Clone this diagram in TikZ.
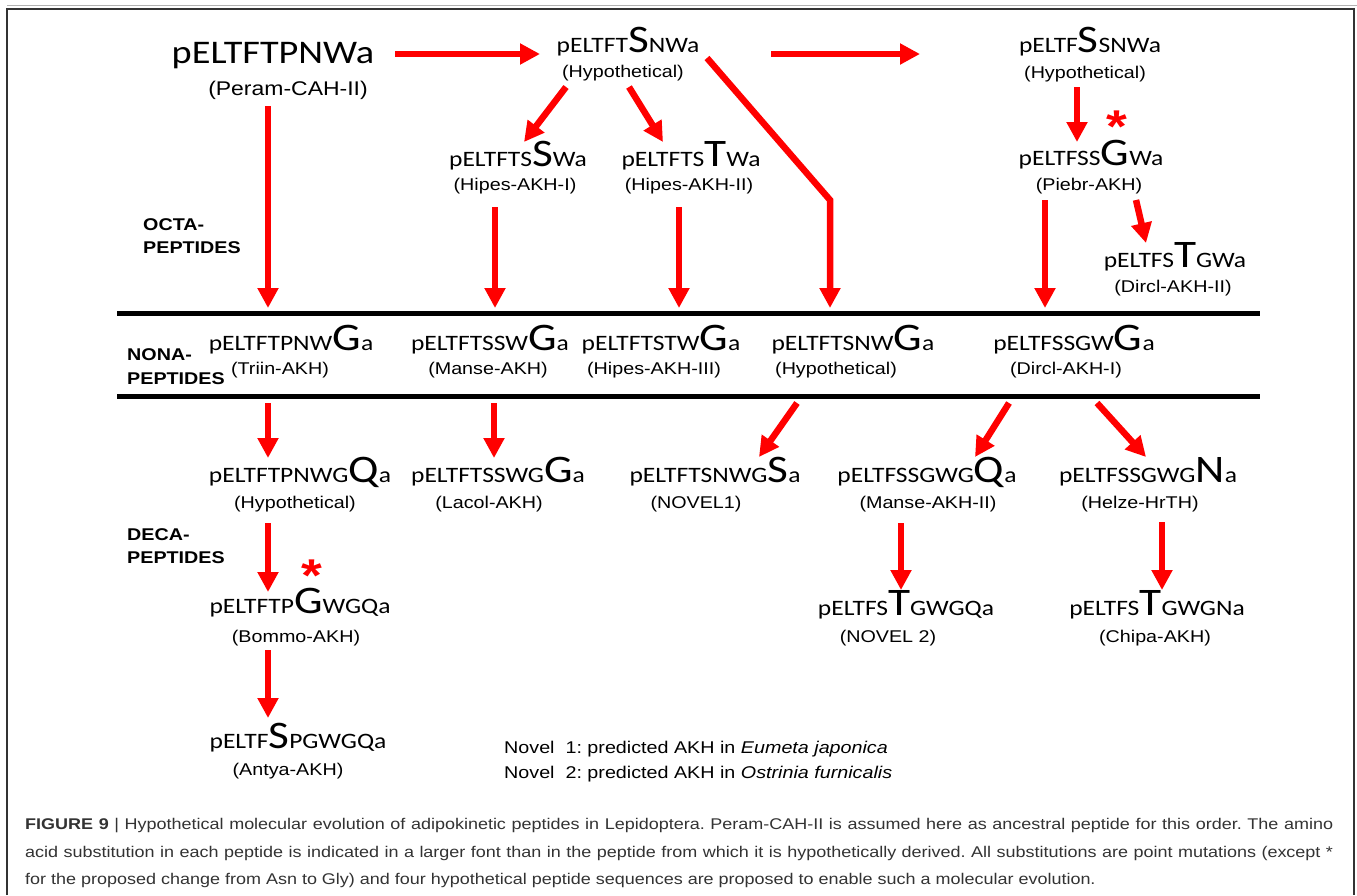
\documentclass[tikz,border=0pt]{standalone}
\usepackage{fontspec}
\setmainfont{Liberation Sans}[FakeStretch=1.16]
\newfontfamily\pepf{Carlito}[FakeStretch=1.16]
\usetikzlibrary{arrows.meta,calc}
\frenchspacing
\newcommand{\pep}[3]{{\pepf\fontsize{22}{22}\selectfont #1{\fontsize{39}{39}\selectfont #2}#3}}
\newcommand{\redstar}{\raisebox{-0.38em}[0.34em][0pt]{*}}
\tikzset{
  pepnode/.style={inner sep=0pt, anchor=base},
  labnode/.style={inner sep=0pt, anchor=base, font=\fontsize{17}{17}\selectfont},
  sidenode/.style={inner sep=0pt, anchor=base west, font=\bfseries\fontsize{17}{17}\selectfont},
  starnode/.style={inner sep=0pt, anchor=center, text=red, font=\bfseries\fontsize{46}{46}\selectfont},
  notenode/.style={inner sep=0pt, anchor=base west, font=\fontsize{17}{17}\selectfont},
  capnode/.style={inner sep=0pt, anchor=base west, text=black!80, font=\fontsize{15.5}{15.5}\selectfont},
  arr/.style={draw=red, line width=6.5pt, -{Triangle[width=20pt,length=20pt]}},
  sepline/.style={draw=black, line width=5pt},
  framel/.style={draw=black!80, line width=2pt}
}
\begin{document}
\begin{tikzpicture}[x=1pt,y=-1pt]
\useasboundingbox (0,0) rectangle (1357,895);
\fill[white] (0,0) rectangle (1357,895);
% frame
\draw[black!30, line width=1pt] (7,5) -- (1357,5);
\coordinate (F1) at (7,895);
\coordinate (F2) at (7,9);
\coordinate (F3) at (1354,9);
\coordinate (F4) at (1354,895);
\draw[framel] (F1) -- (F2) -- (F3) -- (F4);

% separator lines
\coordinate (L1a) at (117,313); \coordinate (L1b) at (1260,313);
\coordinate (L2a) at (117,396); \coordinate (L2b) at (1260,396);
\draw[sepline] (L1a) -- (L1b);
\draw[sepline] (L2a) -- (L2b);

% octapeptides
\node[pepnode] (p1) at (273,63) {{\pepf\fontsize{33}{33}\selectfont pELTFTPNWa}};
\node[labnode, font=\fontsize{19.8}{19.8}\selectfont] (l1) at (288,95) {(Peram-CAH-II)};
\node[pepnode] (p2) at (628,52) {\pep{pELTFT}{S}{NWa}};
\node[labnode] (l2) at (623,77) {(Hypothetical)};
\node[pepnode] (p3) at (1090,52) {\pep{pELTF}{S}{SNWa}};
\node[labnode] (l3) at (1085,78) {(Hypothetical)};
\node[pepnode] (p4) at (518,166) {\pep{pELTFTS}{S}{Wa}};
\node[labnode] (l4) at (515,190) {(Hipes-AKH-I)};
\node[pepnode] (p5) at (691,166) {\pep{pELTFTS}{T}{Wa}};
\node[labnode] (l5) at (689,190) {(Hipes-AKH-II)};
\node[pepnode] (p6) at (1091,165) {\pep{pELTFSS}{G}{Wa}};
\node[labnode] (l6) at (1089,190) {(Piebr-AKH)};
\node[pepnode] (p7) at (1175,267) {\pep{pELTFS}{T}{GWa}};
\node[labnode] (l7) at (1173,292) {(Dircl-AKH-II)};
\node[starnode] (s1) at (1117,117) {\redstar};

% nonapeptides
\node[pepnode] (n1) at (291,350) {\pep{pELTFTPNW}{G}{a}};
\node[labnode] (nl1) at (280,374) {(Triin-AKH)};
\node[pepnode] (n2) at (490,350) {\pep{pELTFTSSW}{G}{a}};
\node[labnode] (nl2) at (488,374) {(Manse-AKH)};
\node[pepnode] (n3) at (661,350) {\pep{pELTFTSTW}{G}{a}};
\node[labnode] (nl3) at (654,374) {(Hipes-AKH-III)};
\node[pepnode] (n4) at (853,350) {\pep{pELTFTSNW}{G}{a}};
\node[labnode] (nl4) at (836,374) {(Hypothetical)};
\node[pepnode] (n5) at (1074,350) {\pep{pELTFSSGW}{G}{a}};
\node[labnode] (nl5) at (1066,374) {(Dircl-AKH-I)};

% decapeptides
\node[pepnode] (d1) at (300,482) {\pep{pELTFTPNWG}{Q}{a}};
\node[labnode] (dl1) at (295,508) {(Hypothetical)};
\node[pepnode] (d2) at (498,482) {\pep{pELTFTSSWG}{G}{a}};
\node[labnode] (dl2) at (489,508) {(Lacol-AKH)};
\node[pepnode] (d3) at (715,482) {\pep{pELTFTSNWG}{S}{a}};
\node[labnode] (dl3) at (696,508) {(NOVEL1)};
\node[pepnode] (d4) at (927,482) {\pep{pELTFSSGWG}{Q}{a}};
\node[labnode] (dl4) at (928,508) {(Manse-AKH-II)};
\node[pepnode] (d5) at (1148,482) {\pep{pELTFSSGWG}{N}{a}};
\node[labnode] (dl5) at (1140,508) {(Helze-HrTH)};
\node[pepnode] (b1) at (300,613) {\pep{pELTFTP}{G}{WGQa}};
\node[labnode] (bl1) at (296,642) {(Bommo-AKH)};
\node[starnode] (s2) at (312,566) {\redstar};
\node[pepnode] (b2) at (906,615) {\pep{pELTFS}{T}{GWGQa}};
\node[labnode] (bl2) at (888,642) {(NOVEL 2)};
\node[pepnode] (b3) at (1157,615) {\pep{pELTFS}{T}{GWGNa}};
\node[labnode] (bl3) at (1155,642) {(Chipa-AKH)};
\node[pepnode] (a1) at (298,748) {\pep{pELTF}{S}{PGWGQa}};
\node[labnode] (al1) at (288,775) {(Antya-AKH)};

% side labels
\node[sidenode] (oc1) at (143,230) {OCTA-};
\node[sidenode] (oc2) at (143,253) {PEPTIDES};
\node[sidenode] (no1) at (127,360) {NONA-};
\node[sidenode] (no2) at (127,384) {PEPTIDES};
\node[sidenode] (de1) at (127,540) {DECA-};
\node[sidenode] (de2) at (127,563) {PEPTIDES};

% notes
\node[notenode] (nt1) at (504,753) {Novel\ \ 1: predicted AKH in \textit{Eumeta japonica}};
\node[notenode] (nt2) at (504,778) {Novel\ \ 2: predicted AKH in \textit{Ostrinia furnicalis}};

% arrows
\draw[arr] ($(p1.base)+(122,-9)$) -- ($(p2.base)+(-88,2)$);
\draw[arr] ($(p2.base)+(143,2)$) -- ($(p3.base)+(-170,2)$);
\draw[arr] ($(l2.base)+(-57,10)$) -- ($(p4.base)+(6,-24)$);
\draw[arr] ($(l2.base)+(6,10)$) -- ($(p5.base)+(-28,-24)$);
\draw[arr] ($(p2.base)+(79,6)$) -- ($(p2.base)+(202,148)$) -- ($(n4.base)+(-23,-42)$);
\draw[arr] ($(l3.base)+(-8,9)$) -- ($(p6.base)+(-14,-23)$);
\draw[arr] ($(l6.base)+(47,10)$) -- ($(p7.base)+(-29,-24)$);
\draw[arr] ($(l1.base)+(-20,11)$) -- ($(n1.base)+(-23,-42)$);
\draw[arr] ($(l4.base)+(-20,17)$) -- ($(n2.base)+(5,-42)$);
\draw[arr] ($(l5.base)+(-10,17)$) -- ($(n3.base)+(18,-42)$);
\draw[arr] ($(l6.base)+(-44,10)$) -- ($(n5.base)+(-29,-42)$);
\draw[arr] ($(nl1.base)+(-12,29)$) -- ($(d1.base)+(-32,-24)$);
\draw[arr] ($(nl2.base)+(6,29)$) -- ($(d2.base)+(-4,-24)$);
\draw[arr] ($(nl4.base)+(-39,29)$) -- ($(d3.base)+(44,-25)$);
\draw[arr] ($(nl5.base)+(-57,29)$) -- ($(d4.base)+(48,-25)$);
\draw[arr] ($(nl5.base)+(31,29)$) -- ($(d5.base)+(-2,-25)$);
\draw[arr] ($(dl1.base)+(-27,15)$) -- ($(b1.base)+(-32,-21)$);
\draw[arr] ($(bl1.base)+(-28,8)$) -- ($(a1.base)+(-30,-30)$);
\draw[arr] ($(dl4.base)+(-27,15)$) -- ($(b2.base)+(-5,-25)$);
\draw[arr] ($(dl5.base)+(22,14)$) -- ($(b3.base)+(5,-25)$);

% caption
\node[capnode] (c1) at (25,829) {\makebox[1308pt][s]{\textbf{FIGURE 9} | Hypothetical molecular evolution of adipokinetic peptides in Lepidoptera. Peram-CAH-II is assumed here as ancestral peptide for this order. The amino}};
\node[capnode] (c2) at (25,857) {\makebox[1308pt][s]{acid substitution in each peptide is indicated in a larger font than in the peptide from which it is hypothetically derived. All substitutions are point mutations (except *}};
\node[capnode] (c3) at (25,884) {for the proposed change from Asn to Gly) and four hypothetical peptide sequences are proposed to enable such a molecular evolution.};
\end{tikzpicture}
\end{document}
